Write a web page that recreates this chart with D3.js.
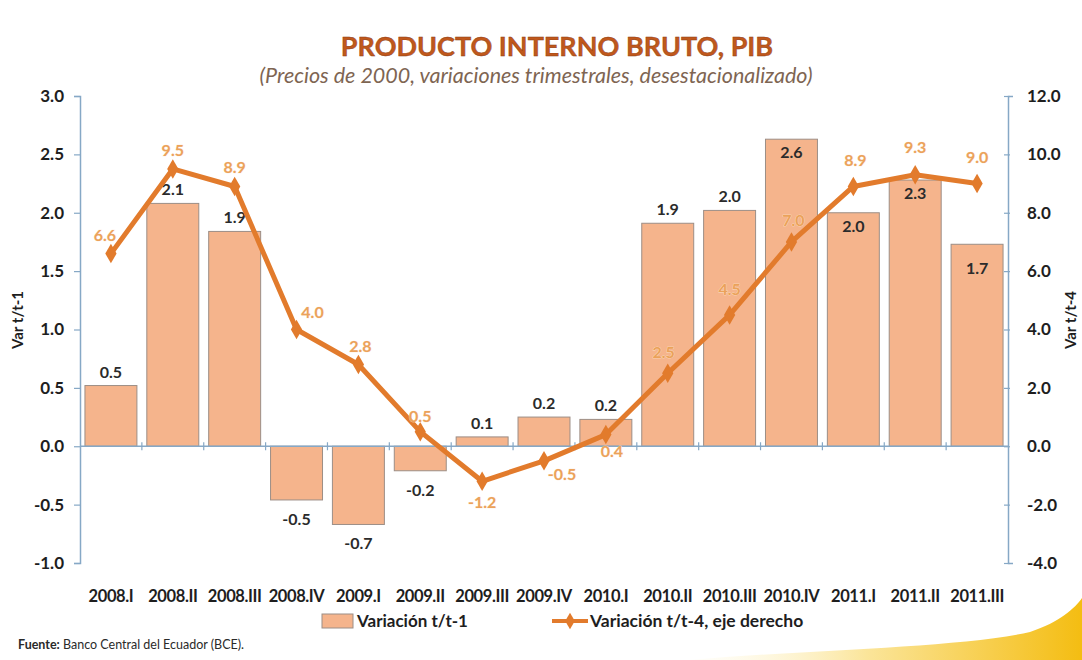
<!DOCTYPE html>
<html><head><meta charset="utf-8">
<script src="https://cdn.jsdelivr.net/npm/d3@7"></script>
<style>
html,body{margin:0;padding:0;background:#fff;}
svg{display:block;font-family:Lato,"Open Sans",sans-serif;}
</style></head>
<body>
<svg id="chart" width="1082" height="660"></svg>
<script>
// ---- data ----
const categories = ["2008.I","2008.II","2008.III","2008.IV","2009.I","2009.II","2009.III","2009.IV","2010.I","2010.II","2010.III","2010.IV","2011.I","2011.II","2011.III"];
const qoqValues = [0.52, 2.08, 1.84, -0.46, -0.67, -0.21, 0.08, 0.25, 0.23, 1.91, 2.02, 2.63, 2.0, 2.28, 1.73];
const qoqLabels = ["0.5","2.1","1.9","-0.5","-0.7","-0.2","0.1","0.2","0.2","1.9","2.0","2.6","2.0","2.3","1.7"];
const yoyValues = [6.6, 9.5, 8.9, 4.0, 2.8, 0.5, -1.2, -0.5, 0.4, 2.5, 4.5, 7.0, 8.9, 9.3, 9.0];
const yoyLabels = ["6.6","9.5","8.9","4.0","2.8","0.5","-1.2","-0.5","0.4","2.5","4.5","7.0","8.9","9.3","9.0"];
const leftTicks = [-1.0, -0.5, 0.0, 0.5, 1.0, 1.5, 2.0, 2.5, 3.0];
const rightTicks = [-4, -2, 0, 2, 4, 6, 8, 10, 12];
// label placement (styling)
const barLabelMode = ["out","out","out","out","out","out","out","out","out","out","out","in","in","in","in2"];
const lineLabelDX = [-6,0,0,16,2,0,0,18,6,-4,0,2,2,0,0];
const lineLabelDY = [-18,-18,-18,-17,-18,-15,22,14,17,-20,-25,-21,-25,-27,-26];

const svg = d3.select("#chart");
const pL = 80, pR = 1008, pT = 96, pB = 563;
const fmt = v => v.toFixed(1);

const x = d3.scaleBand().domain(categories).range([pL, pR]).paddingInner(0.16).paddingOuter(0.08);
const xb = d3.scaleBand().domain(categories).range([pL, pR]);
const yL = d3.scaleLinear().domain([-1, 3]).range([pB, pT]);
const yR = d3.scaleLinear().domain([-4, 12]).range([pB, pT]);

// decorative swoosh
const defs = svg.append("defs");
const g1 = defs.append("linearGradient").attr("id","sw").attr("x1","0").attr("x2","1").attr("y1","0").attr("y2","0");
g1.append("stop").attr("offset","0").attr("stop-color","#fffbe8").attr("stop-opacity",0.2);
g1.append("stop").attr("offset","0.45").attr("stop-color","#fbe59a");
g1.append("stop").attr("offset","1").attr("stop-color","#f4bd12");
svg.append("path").attr("d","M690,660 C800,650 960,648 1030,632 C1060,622 1075,608 1082,598 L1082,660 Z").attr("fill","url(#sw)");

// title
svg.append("text").attr("x",557).attr("y",56).attr("text-anchor","middle")
  .attr("font-size",27).attr("font-weight","bold").attr("fill","#c0581c")
  .attr("stroke","#8a3a10").attr("stroke-width",0.4)
  .text("PRODUCTO INTERNO BRUTO, PIB");
svg.append("text").attr("x",536).attr("y",83).attr("text-anchor","middle")
  .attr("font-size",21.5).attr("font-style","italic").attr("fill","#7e6552")
  .text("(Precios de 2000, variaciones trimestrales, desestacionalizado)");

// bars
svg.append("g").selectAll("rect").data(qoqValues).join("rect")
  .attr("x",(d,i)=>x(categories[i]))
  .attr("width",x.bandwidth())
  .attr("y",d=>yL(Math.max(0,d)))
  .attr("height",d=>Math.abs(yL(d)-yL(0)))
  .attr("fill","#f5b48c").attr("stroke","#9c8e86").attr("stroke-width",1);

// axes
const axisColor = "#86a8c6";
const gL = svg.append("g").attr("transform",`translate(${pL},0)`)
  .call(d3.axisLeft(yL).tickValues(leftTicks).tickFormat(fmt).tickSize(6).tickPadding(10));
const gR = svg.append("g").attr("transform",`translate(${pR},0)`)
  .call(d3.axisRight(yR).tickValues(rightTicks).tickFormat(fmt).tickSize(5).tickPadding(14));
[gL,gR].forEach(g=>{
  g.select(".domain").attr("stroke",axisColor).attr("stroke-width",1.5);
  g.selectAll(".tick line").attr("stroke",axisColor).attr("stroke-width",1.2);
  g.selectAll(".tick text").attr("font-size",17).attr("font-weight","bold").attr("fill","#1e1e1e").attr("font-family","Lato,sans-serif");
});
gR.selectAll(".tick line").attr("x1",-4).attr("x2",2);
gL.selectAll(".tick line").attr("x2",0).attr("x1",-6);

// zero line with category ticks
svg.append("line").attr("x1",pL).attr("x2",pR).attr("y1",yL(0)).attr("y2",yL(0))
  .attr("stroke",axisColor).attr("stroke-width",1.5);
svg.append("g").selectAll("line").data(categories.slice(1)).join("line")
  .attr("x1",d=>xb(d)).attr("x2",d=>xb(d)).attr("y1",yL(0)-4).attr("y2",yL(0)+4)
  .attr("stroke",axisColor).attr("stroke-width",1.2);

// category labels
svg.append("g").selectAll("text").data(categories).join("text")
  .attr("x",d=>xb(d)+xb.bandwidth()/2).attr("y",602).attr("text-anchor","middle")
  .attr("font-size",16.5).attr("font-weight","bold").attr("fill","#1e1e1e")
  .attr("letter-spacing",-0.4)
  .text(d=>d);

// axis titles
svg.append("text").attr("transform","translate(23,320) rotate(-90)").attr("text-anchor","middle")
  .attr("font-size",15).attr("font-weight","bold").attr("fill","#1e1e1e").text("Var t/t-1");
svg.append("text").attr("transform","translate(1076,320) rotate(-90)").attr("text-anchor","middle")
  .attr("font-size",15).attr("font-weight","bold").attr("fill","#1e1e1e").text("Var t/t-4");

// bar labels
svg.append("g").selectAll("text").data(qoqValues).join("text")
  .attr("x",(d,i)=>xb(categories[i])+xb.bandwidth()/2)
  .attr("y",(d,i)=>{
    const m = barLabelMode[i];
    if (m==="in") return yL(d)+19;
    if (m==="in2") return yL(d)+30;
    return d>=0 ? yL(d)-8 : yL(d)+25;
  })
  .attr("text-anchor","middle").attr("font-size",16).attr("font-weight","bold").attr("fill","#2b2b2b")
  .text((d,i)=>qoqLabels[i]);

// line
const lineColor = "#e27b2c";
const line = d3.line().x((d,i)=>xb(categories[i])+xb.bandwidth()/2).y(d=>yR(d));
svg.append("path").datum(yoyValues).attr("d",line).attr("fill","none")
  .attr("stroke",lineColor).attr("stroke-width",5).attr("stroke-linejoin","round");
svg.append("g").selectAll("path").data(yoyValues).join("path")
  .attr("transform",(d,i)=>`translate(${xb(categories[i])+xb.bandwidth()/2},${yR(d)})`)
  .attr("d",d3.symbol(d3.symbolDiamond,110)).attr("fill",lineColor);

// line labels
svg.append("g").selectAll("text").data(yoyValues).join("text")
  .attr("x",(d,i)=>xb(categories[i])+xb.bandwidth()/2+lineLabelDX[i])
  .attr("y",(d,i)=>yR(d)+lineLabelDY[i]+5)
  .attr("text-anchor","middle").attr("font-size",16).attr("font-weight","bold")
  .attr("fill","#eba25a").attr("stroke","#fde9d6").attr("stroke-width",0.6).attr("paint-order","stroke")
  .text((d,i)=>yoyLabels[i]);

// legend
svg.append("rect").attr("x",322).attr("y",614).attr("width",31).attr("height",14)
  .attr("fill","#f5b48c").attr("stroke","#9c8e86");
svg.append("text").attr("x",357).attr("y",627).attr("font-size",17).attr("font-weight","bold").attr("fill","#1e1e1e").text("Variación t/t-1");
svg.append("line").attr("x1",552).attr("x2",588).attr("y1",621).attr("y2",621).attr("stroke",lineColor).attr("stroke-width",4);
svg.append("path").attr("transform","translate(570,621)").attr("d",d3.symbol(d3.symbolDiamond,80)).attr("fill",lineColor);
svg.append("text").attr("x",590).attr("y",627).attr("font-size",17.5).attr("font-weight","bold").attr("fill","#1e1e1e").text("Variación t/t-4, eje derecho");

// footer
const f = svg.append("text").attr("x",18).attr("y",649).attr("font-size",12.5).attr("font-weight","bold").attr("fill","#2a2a2a");
f.append("tspan").text("Fuente:");
f.append("tspan").attr("font-weight","normal").text(" Banco Central del Ecuador (BCE).");
</script>
</body></html>
